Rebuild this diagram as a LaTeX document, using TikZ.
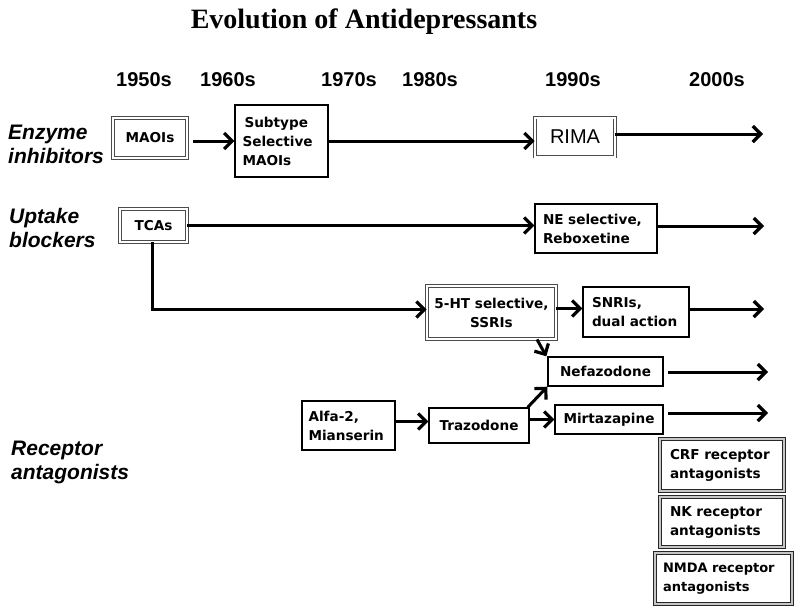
\documentclass[tikz,border=0pt]{standalone}
\usepackage{fontspec}
\usetikzlibrary{arrows.meta}
\newfontfamily\arial{Liberation Sans}
\newfontfamily\tnr{Liberation Serif}
\newfontfamily\dvs{DejaVu Sans}
\tikzset{
  box/.style={draw=black, line width=1.4pt, inner sep=0pt, font=\dvs\bfseries\fontsize{13.6}{19}\selectfont, align=left},
  dbox/.style={box, draw=black!70, double=white, double distance=2pt, line width=0.8pt},
  sbox/.style={box, draw=black!85, double=gray!45, double distance=1.4pt, line width=1pt},
  arr/.style={line width=3pt, -{Straight Barb[length=8pt,width=16pt,line width=3.2pt 0 0,line join=miter]}},
  decade/.style={font=\arial\bfseries\fontsize{20}{22}\selectfont},
  rowlab/.style={font=\arial\bfseries\itshape\fontsize{21}{24}\selectfont, align=left, anchor=west, inner sep=0pt},
}
\begin{document}
\begin{tikzpicture}[x=1pt,y=-1pt]
\useasboundingbox (0,0) rectangle (800,614);
% title
\node[font=\tnr\bfseries\fontsize{28}{30}\selectfont] (title) at (364,22) {Evolution of Antidepressants};
% decades
\node[decade] (d50) at (144,80) {1950s};
\node[decade] (d60) at (228,80) {1960s};
\node[decade] (d70) at (349,80) {1970s};
\node[decade] (d80) at (430,80) {1980s};
\node[decade] (d90) at (573,80) {1990s};
\node[decade] (d00) at (717,80) {2000s};
% row labels
\node[rowlab] (enz) at (8,144) {Enzyme\\inhibitors};
\node[rowlab] (upt) at (9,228) {Uptake\\blockers};
\node[rowlab] (rec) at (11,462) {Receptor\\antagonists};
% boxes
\node[dbox, minimum width=74pt, minimum height=40pt, align=center] (maoi) at (150,138) {MAOIs};
\node[box, minimum width=93pt, minimum height=72pt, text width=78pt] (subtype) at (281.5,141) {\hspace*{2pt}Subtype\\Selective\\MAOIs};
\node[dbox, minimum width=80pt, minimum height=39pt, align=center, font=\arial\fontsize{20}{22}\selectfont] (rima) at (575,137) {RIMA};
\node[dbox, minimum width=67pt, minimum height=33pt, align=center] (tcas) at (153.5,225.5) {TCAs};
\node[box, minimum width=122pt, minimum height=49pt, text width=106pt] (ne) at (596,228.5) {NE selective,\\Reboxetine};
\node[dbox, minimum width=129pt, minimum height=53pt, align=center] (ht5) at (491.5,312.5) {5-HT selective,\\SSRIs};
\node[box, minimum width=106pt, minimum height=50pt, text width=88pt] (snri) at (636,312) {SNRIs,\\dual action};
\node[box, minimum width=115pt, minimum height=29pt, align=center] (nefa) at (605.5,371.5) {Nefazodone};
\node[box, minimum width=93pt, minimum height=49pt, text width=80pt] (alfa) at (348.5,425.5) {Alfa-2,\\Mianserin};
\node[box, minimum width=100pt, minimum height=35pt, align=center] (traz) at (479,425.5) {Trazodone};
\node[box, minimum width=108pt, minimum height=29pt, align=center] (mirt) at (609,419.5) {Mirtazapine};
\node[sbox, minimum width=124pt, minimum height=52pt, text width=104pt] (crf) at (722,465) {CRF receptor\\antagonists};
\node[sbox, minimum width=124pt, minimum height=50pt, text width=104pt] (nk) at (722,522) {NK receptor\\antagonists};
\node[sbox, minimum width=137pt, minimum height=51pt, text width=121pt, font=\dvs\bfseries\fontsize{13}{19}\selectfont] (nmda) at (723.5,578.5) {NMDA receptor\\antagonists};
% free ends
\coordinate (e1) at (763,134);
\coordinate (e2) at (764,226);
\coordinate (e3) at (764,309);
\coordinate (n1) at (668,372);
\coordinate (n2) at (768,372);
\coordinate (m1) at (668,413);
\coordinate (m2) at (768,413);
% connectors
\draw[arr, shorten <=6pt] (maoi.east |- subtype.west) -- (subtype.west);
\draw[arr] (subtype.east) -- (subtype.east -| rima.west);
\draw[arr] (rima.east |- e1) -- (e1);
\draw[arr] (tcas.east) -- (tcas.east -| ne.west);
\draw[arr] (ne.east |- e2) -- (e2);
\draw[arr, line cap=butt] ([xshift=-1.5pt]tcas.south) |- ([yshift=3pt]ht5.west);
\draw[arr] ([yshift=4pt]ht5.east) -- ([yshift=4pt]ht5.east -| snri.west);
\draw[arr] (snri.east |- e3) -- (e3);
\draw[arr] ([xshift=45.5pt]ht5.south) -- ([xshift=-1pt]nefa.north west);
\draw[arr] (n1) -- (n2);
\draw[arr] (m1) -- (m2);
\draw[arr] ([yshift=4pt]alfa.east) -- ([yshift=4pt]alfa.east -| traz.west);
\draw[arr] (traz.east |- mirt.west) -- (mirt.west);
\draw[arr] ([xshift=-2pt]traz.north east) -- (nefa.south west);
\end{tikzpicture}
\end{document}
